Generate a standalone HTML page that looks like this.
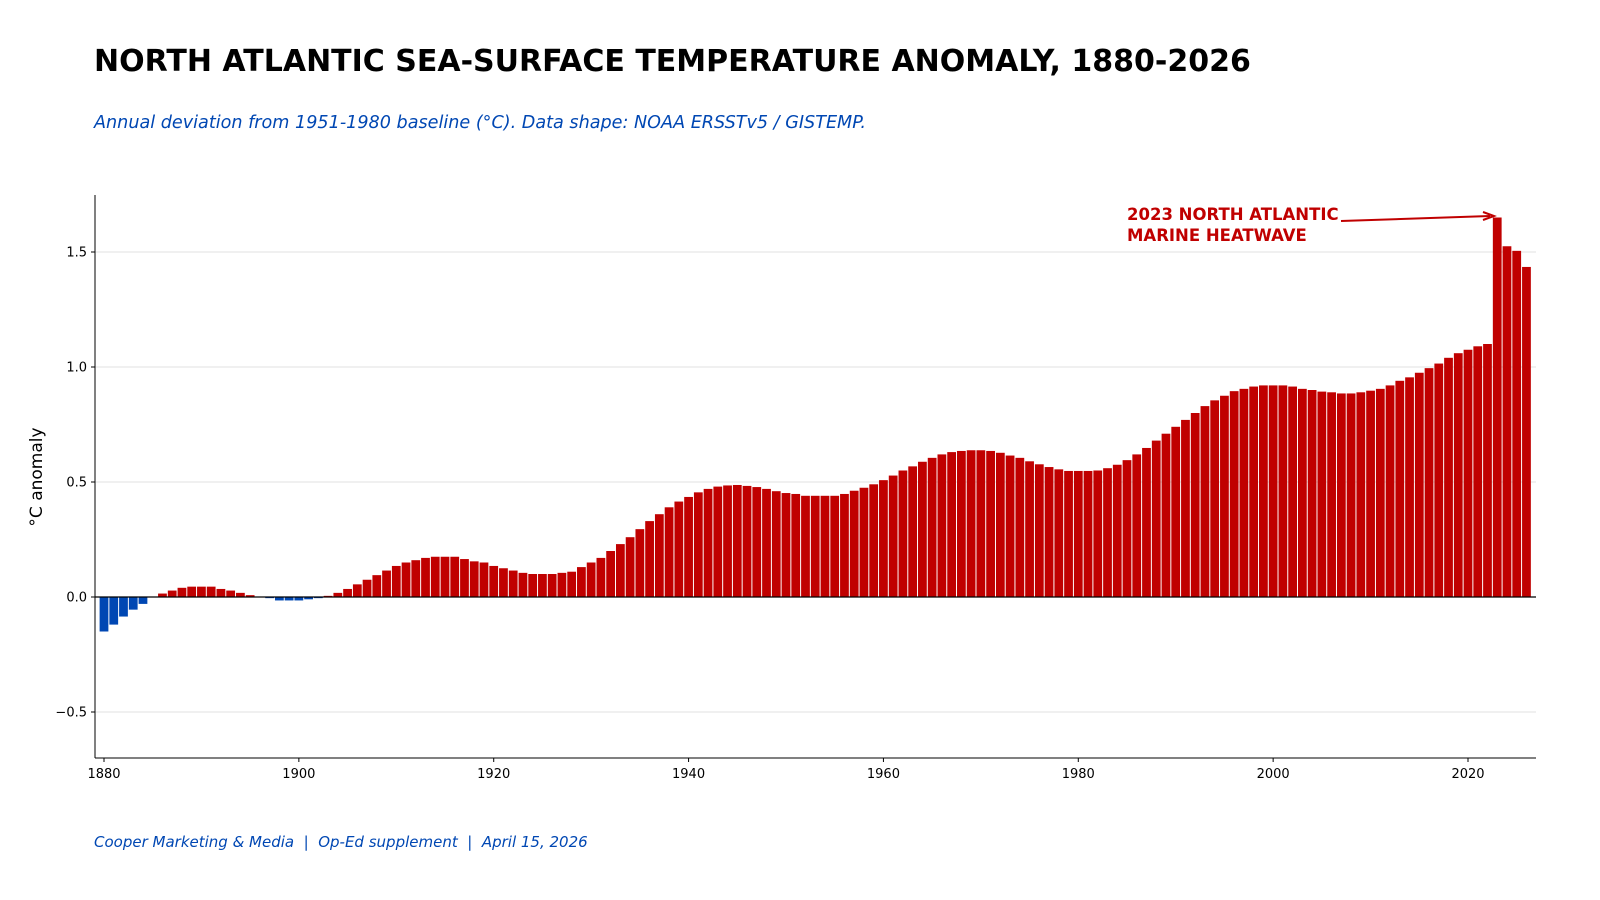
<!DOCTYPE html>
<html><head><meta charset="utf-8"><style>
body{margin:0;background:#fff;}
svg{display:block;font-family:"Liberation Sans","DejaVu Sans",sans-serif;}
</style></head><body>
<svg id="chart" width="1600" height="900" viewBox="0 0 1600 900">
<text x="94" y="71" font-size="30" font-weight="bold" fill="#000" font-family="DejaVu Sans, sans-serif">NORTH ATLANTIC SEA-SURFACE TEMPERATURE ANOMALY, 1880-2026</text>
<text x="94" y="128" font-size="17.6" font-style="italic" fill="#0047b3" font-family="DejaVu Sans, sans-serif">Annual deviation from 1951-1980 baseline (°C). Data shape: NOAA ERSSTv5 / GISTEMP.</text>
<g id="grid"></g>
<g id="bars"></g>
<g id="axes"></g>
<text transform="translate(42,477) rotate(-90)" text-anchor="middle" font-size="17" fill="#000" font-family="DejaVu Sans, sans-serif">°C anomaly</text>
<g>
<text x="1127" y="220" font-size="16.5" font-weight="bold" fill="#c00000" font-family="DejaVu Sans, sans-serif">2023 NORTH ATLANTIC</text>
<text x="1127" y="241" font-size="16.5" font-weight="bold" fill="#c00000" font-family="DejaVu Sans, sans-serif">MARINE HEATWAVE</text>
<line x1="1341" y1="221" x2="1490" y2="216" stroke="#c00000" stroke-width="2"/>
<path d="M1483 212 L1494 216 L1483 220" fill="none" stroke="#c00000" stroke-width="2"/>
</g>
<text x="94" y="847" font-size="15" font-style="italic" fill="#0047b3" font-family="DejaVu Sans, sans-serif" style="white-space:pre" xml:space="preserve">Cooper Marketing &amp; Media  |  Op-Ed supplement  |  April 15, 2026</text>
</svg>
<script>
const startYear = 1880;
const anomalies = [-0.15,-0.12,-0.085,-0.055,-0.03,0.0,0.015,0.028,0.04,0.045,0.045,0.045,0.035,0.028,0.018,0.008,0.0,-0.005,-0.015,-0.015,
-0.015,-0.01,-0.005,0.005,0.018,0.035,0.055,0.075,0.095,0.115,0.135,0.15,0.16,0.17,0.175,0.175,0.175,0.165,0.155,0.15,
0.135,0.125,0.115,0.105,0.1,0.1,0.1,0.105,0.11,0.13,0.15,0.17,0.2,0.23,0.26,0.295,0.33,0.36,0.39,0.415,
0.435,0.455,0.47,0.48,0.485,0.487,0.483,0.478,0.47,0.46,0.452,0.448,0.44,0.44,0.44,0.44,0.448,0.462,0.475,0.49,
0.508,0.528,0.55,0.568,0.588,0.605,0.62,0.63,0.635,0.638,0.638,0.635,0.627,0.615,0.605,0.59,0.577,0.565,0.555,0.548,
0.548,0.548,0.55,0.56,0.575,0.595,0.62,0.648,0.68,0.71,0.74,0.77,0.8,0.83,0.855,0.875,0.895,0.905,0.915,0.92,
0.92,0.92,0.915,0.905,0.9,0.893,0.89,0.885,0.885,0.89,0.897,0.905,0.92,0.94,0.955,0.975,0.995,1.015,1.04,1.06,
1.075,1.09,1.1,1.65,1.525,1.505,1.435];
const yTicks = [-0.5,0.0,0.5,1.0,1.5];
const yTickLabels = ["\u22120.5","0.0","0.5","1.0","1.5"];
const xTicks = [1880,1900,1920,1940,1960,1980,2000,2020];

const NS="http://www.w3.org/2000/svg";
const L=95,R=1536,T=195,B=758;
const x=yr=>104+(yr-1880)*(1364/140);
const y=v=>597-v*230;
const bw=0.9*1364/140;
const gG=document.getElementById('grid'),gB=document.getElementById('bars'),gA=document.getElementById('axes');
function mk(tag,attrs,parent){const e=document.createElementNS(NS,tag);for(const k in attrs)e.setAttribute(k,attrs[k]);parent.appendChild(e);return e;}
yTicks.forEach((t,i)=>{
  if(t!==0){const gl=mk('line',{x1:L,x2:R,y1:y(t),y2:y(t),stroke:'#e0e0e0','stroke-width':1},gG);
  
  }
  mk('line',{x1:L-4,x2:L,y1:y(t),y2:y(t),stroke:'#000'},gA);
  const tx=mk('text',{x:L-8,y:y(t)+4.5,'text-anchor':'end','font-size':13,fill:'#000','font-family':'DejaVu Sans, sans-serif'},gA);
  tx.textContent=yTickLabels[i];
  
  
});
anomalies.forEach((v,i)=>{
  const yr=startYear+i;
  const r=mk('rect',{x:x(yr)-bw/2,y:Math.min(y(v),y(0)),width:bw,height:Math.abs(y(v)-y(0)),fill:v<0?'#0047b3':'#c00000'},gB);
  
  
});
mk('line',{x1:L,x2:R,y1:y(0),y2:y(0),stroke:'#000','stroke-width':1.3},gA);
mk('line',{x1:L,x2:L,y1:T,y2:B,stroke:'#000','stroke-width':1},gA);
mk('line',{x1:L,x2:R,y1:B,y2:B,stroke:'#000','stroke-width':1},gA);
xTicks.forEach(t=>{
  mk('line',{x1:x(t),x2:x(t),y1:B,y2:B+4,stroke:'#000'},gA);
  const tx=mk('text',{x:x(t),y:B+20,'text-anchor':'middle','font-size':13,fill:'#000','font-family':'DejaVu Sans, sans-serif'},gA);
  tx.textContent=t;
  
  
});
</script>
</body></html>
